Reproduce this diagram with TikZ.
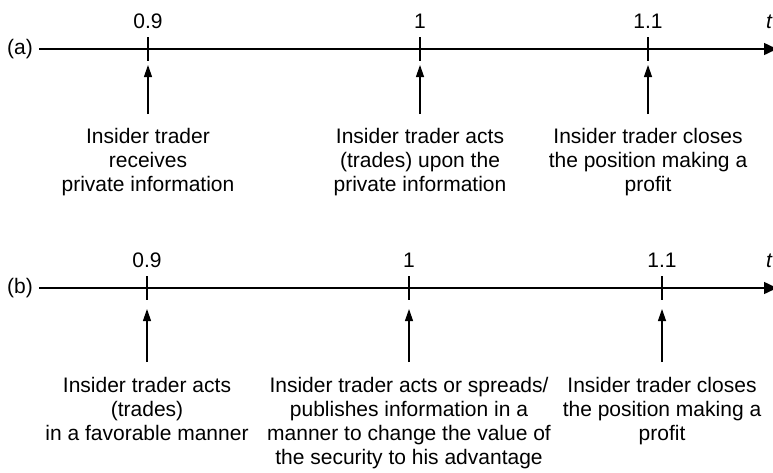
\documentclass[tikz,border=0pt]{standalone}
\usepackage{fontspec}
\setmainfont{Liberation Sans}
\usetikzlibrary{arrows.meta}
\begin{document}
\begin{tikzpicture}[x=1pt,y=-1pt,
  lbl/.style={font=\fontsize{21}{24}\selectfont, inner sep=0pt},
  desc/.style={lbl, align=center, anchor=north},
  axisline/.style={line width=1.5pt, -{Triangle[length=13pt,width=12pt]}},
  tickmark/.style={line width=1.3pt},
  uparrow/.style={line width=1.2pt, -{Triangle[length=12pt,width=8pt]}}]
\useasboundingbox (0,0) rectangle (773,472);

% ---------- (a) ----------
\node[lbl, anchor=east] (la) at (33,49) {(a)};
\coordinate (a0) at (39,49);
\coordinate (a1) at (777,49);
\draw[axisline] (a0) -- (a1);
\node[lbl, anchor=base west] (ta) at (766,28) {\itshape t};

\foreach \n/\x/\v in {1/148/0.9, 2/420/1, 3/648/1.1}{
  \coordinate (at\n u) at (\x,37);
  \coordinate (at\n d) at (\x,61);
  \draw[tickmark] (at\n u) -- (at\n d);
  \node[lbl, anchor=base] (av\n) at (\x,28) {\v};
  \coordinate (aa\n b) at (\x,114);
  \coordinate (aa\n t) at (\x,65);
  \draw[uparrow] (aa\n b) -- (aa\n t);
}
\node[desc] (ad1) at (148,128) {Insider trader\\receives\\private information};
\node[desc] (ad2) at (420,128) {Insider trader acts\\(trades) upon the\\private information};
\node[desc] (ad3) at (648,128) {Insider trader closes\\the position making a\\profit};

% ---------- (b) ----------
\node[lbl, anchor=east] (lb) at (33,288) {(b)};
\coordinate (b0) at (39,288);
\coordinate (b1) at (777,288);
\draw[axisline] (b0) -- (b1);
\node[lbl, anchor=base west] (tb) at (766,267) {\itshape t};

\foreach \n/\x/\v in {1/147/0.9, 2/409/1, 3/662/1.1}{
  \coordinate (bt\n u) at (\x,276);
  \coordinate (bt\n d) at (\x,300);
  \draw[tickmark] (bt\n u) -- (bt\n d);
  \node[lbl, anchor=base] (bv\n) at (\x,267) {\v};
  \coordinate (ba\n b) at (\x,362);
  \coordinate (ba\n t) at (\x,309);
  \draw[uparrow] (ba\n b) -- (ba\n t);
}
\node[desc] (bd1) at (147,377) {Insider trader acts\\(trades)\\in a favorable manner};
\node[desc] (bd2) at (409,377) {Insider trader acts or spreads/\\publishes information in a\\manner to change the value of\\the security to his advantage};
\node[desc] (bd3) at (662,377) {Insider trader closes\\the position making a\\profit};
\end{tikzpicture}
\end{document}
